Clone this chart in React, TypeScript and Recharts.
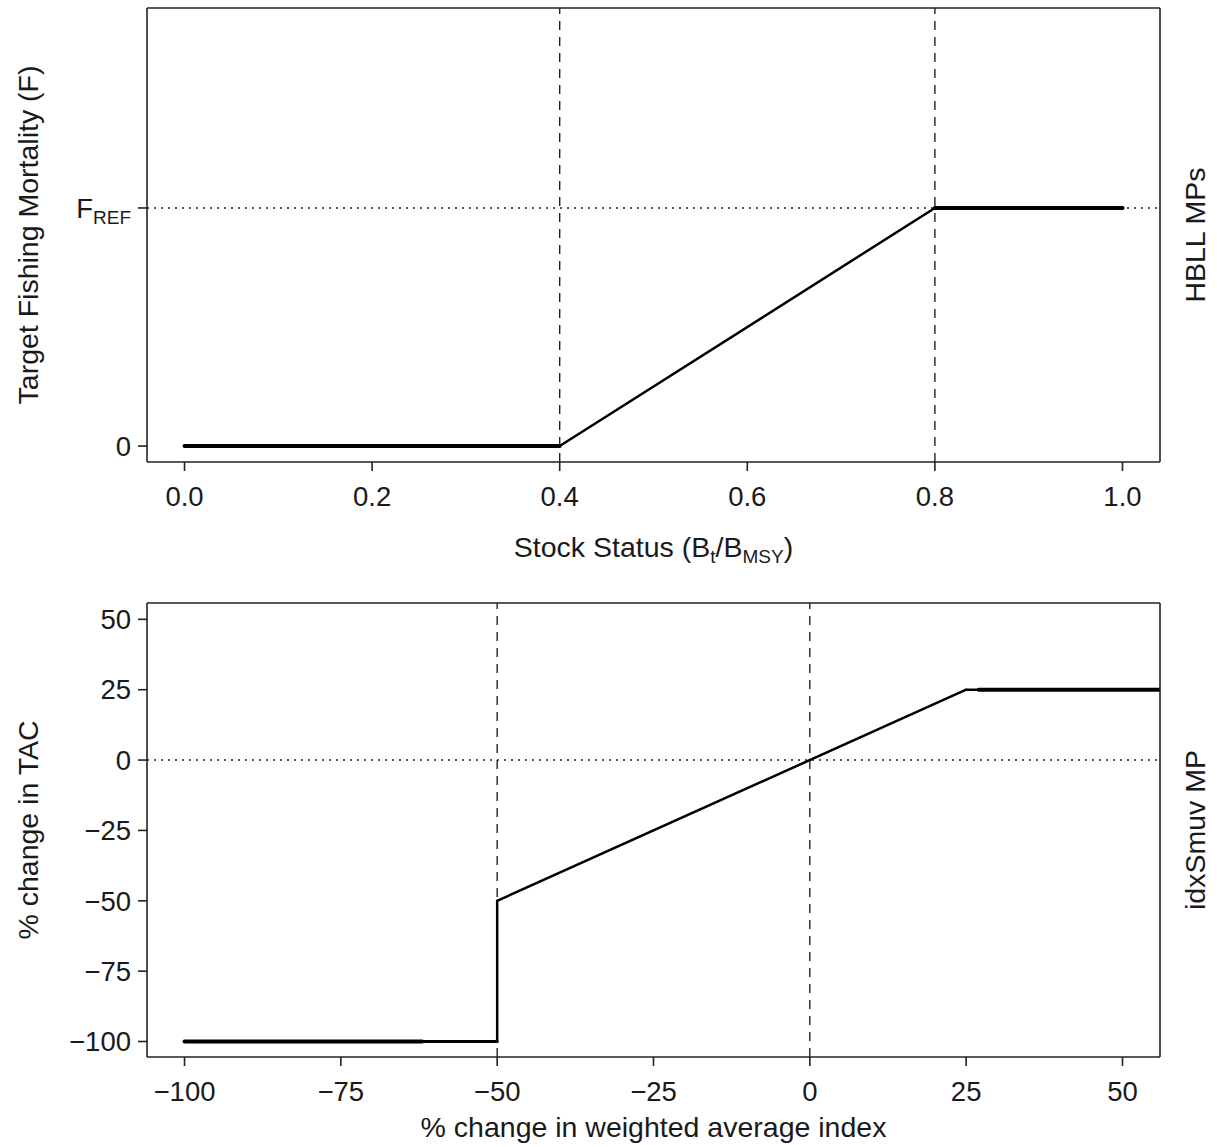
import React from "react";
import {
  LineChart,
  Line,
  XAxis,
  YAxis,
  ReferenceLine,
  Label,
} from "recharts";

const FONT = '"Liberation Sans", Arial, Helvetica, sans-serif';
const INK = "#1a1a1a";

// top panel: HBLL harvest control rule (F as fraction of F_REF)
const stockStatus = [0, 0.4, 0.8, 1.0];
const targetF = [0, 0, 1, 1];
const stockTicks = [0, 0.2, 0.4, 0.6, 0.8, 1.0];
const fTicks = [0, 1];
const stockRefX = [0.4, 0.8];
const fRefY = 1;
const stockDomain = [-0.04, 1.04];
const fDomain = [-0.067, 1.84];

// bottom panel: idxSmuv rule
const indexChange = [-100, -62, -50, -50, 25, 27, 56];
const tacChange = [-100, -100, -100, -50, 25, 25, 25];
const indexTicks = [-100, -75, -50, -25, 0, 25, 50];
const tacTicks = [50, 25, 0, -25, -50, -75, -100];
const indexRefX = [-50, 0];
const tacRefY = 0;
const indexDomain = [-106, 56];
const tacDomain = [-105.5, 55.8];

// line weight for each segment (overplotted parts look heavier)
const topWidths = [4, 2.5, 4];
const bottomWidths = [4, 3, 2.5, 2.5, 2.5, 4];

const toSegments = (xs: number[], ys: number[]) =>
  xs.slice(0, -1).map((x, i) => [
    { x, y: ys[i] },
    { x: xs[i + 1], y: ys[i + 1] },
  ]);

const topSegments = toSegments(stockStatus, targetF);
const bottomSegments = toSegments(indexChange, tacChange);

const minus = (v: number) => String(v).replace("-", "\u2212");

const TICK_SIZE = 27.5;

const XTick = ({ x, y, payload, fmt }: any) => (
  <text
    x={x}
    y={y}
    dy="0.71em"
    textAnchor="middle"
    fontSize={TICK_SIZE}
    fontFamily={FONT}
    fill={INK}
  >
    {fmt(payload.value)}
  </text>
);

const YTick = ({ x, y, payload }: any) => (
  <text
    x={x}
    y={y}
    dy="0.355em"
    textAnchor="end"
    fontSize={TICK_SIZE}
    fontFamily={FONT}
    fill={INK}
  >
    {minus(payload.value)}
  </text>
);

const FTick = ({ x, y, payload }: any) => (
  <text
    x={x}
    y={y}
    dy="0.355em"
    textAnchor="end"
    fontSize={TICK_SIZE}
    fontFamily={FONT}
    fill={INK}
  >
    {payload.value === 1 ? (
      <>
        F
        <tspan fontSize={19} dy={6}>
          REF
        </tspan>
      </>
    ) : (
      "0"
    )}
  </text>
);

const vTitle = (text: React.ReactNode, dx: number) => (props: any) => {
  const vb = props.viewBox;
  const cx = vb.x + dx;
  const cy = vb.y + vb.height / 2;
  return (
    <text
      x={cx}
      y={cy}
      dy="0.35em"
      textAnchor="middle"
      transform={`rotate(-90, ${cx}, ${cy})`}
      fontSize={28.5}
      fontFamily={FONT}
      fill={INK}
    >
      {text}
    </text>
  );
};

const hTitle = (text: React.ReactNode, dy: number) => (props: any) => {
  const vb = props.viewBox;
  return (
    <text
      x={vb.x + vb.width / 2}
      y={vb.y + dy}
      dy="0.35em"
      textAnchor="middle"
      fontSize={28.5}
      fontFamily={FONT}
      fill={INK}
    >
      {text}
    </text>
  );
};

const axisStroke = { stroke: "#222", strokeWidth: 1.6 };

export default function App() {
  return (
    <div
      style={{
        position: "absolute",
        left: 0,
        top: 0,
        width: 1217,
        height: 1147,
        background: "#fff",
      }}
    >
      <LineChart width={1217} height={575} margin={{ top: 8, right: 0, bottom: 0, left: 0 }}>
        <XAxis
          type="number"
          dataKey="x"
          domain={stockDomain}
          ticks={stockTicks}
          allowDataOverflow
          height={113}
          tickSize={9}
          tickMargin={15}
          axisLine={axisStroke}
          tickLine={axisStroke}
          tick={<XTick fmt={(v: number) => v.toFixed(1)} />}
        >
          <Label
            content={hTitle(
              <>
                Stock Status (B
                <tspan fontSize={19} dy={6}>t</tspan>
                <tspan dy={-6}>/B</tspan>
                <tspan fontSize={19} dy={6}>MSY</tspan>
                <tspan dy={-6}>)</tspan>
              </>,
              85
            )}
          />
        </XAxis>
        <YAxis
          type="number"
          domain={fDomain}
          ticks={fTicks}
          allowDataOverflow
          width={147}
          tickSize={9}
          tickMargin={7}
          axisLine={axisStroke}
          tickLine={axisStroke}
          tick={<FTick />}
        >
          <Label content={vTitle("Target Fishing Mortality (F)", 28)} />
        </YAxis>
        <YAxis
          yAxisId="right"
          orientation="right"
          type="number"
          domain={[0, 1]}
          width={57}
          tick={false}
          tickLine={false}
          axisLine={axisStroke}
        >
          <Label content={vTitle("HBLL MPs", 35)} />
        </YAxis>
        {/* top edge of the box */}
        <ReferenceLine y={fDomain[1]} stroke="#222" strokeWidth={1.6} />
        <ReferenceLine y={fRefY} stroke="#222" strokeWidth={1.4} strokeDasharray="2 5" />
        {stockRefX.map((v) => (
          <ReferenceLine key={v} x={v} stroke="#222" strokeWidth={1.4} strokeDasharray="9 7" />
        ))}
        {topSegments.map((seg, i) => (
          <Line
            key={i}
            data={seg}
            dataKey="y"
            stroke="#000"
            strokeWidth={topWidths[i]}
            strokeLinecap="round"
            dot={false}
            activeDot={false}
            isAnimationActive={false}
          />
        ))}
      </LineChart>
      <LineChart width={1217} height={572} margin={{ top: 28, right: 0, bottom: 0, left: 0 }}>
        <XAxis
          type="number"
          dataKey="x"
          domain={indexDomain}
          ticks={indexTicks}
          allowDataOverflow
          height={90}
          tickSize={9}
          tickMargin={15}
          axisLine={axisStroke}
          tickLine={axisStroke}
          tick={<XTick fmt={minus} />}
        >
          <Label content={hTitle("% change in weighted average index", 70)} />
        </XAxis>
        <YAxis
          type="number"
          domain={tacDomain}
          ticks={tacTicks}
          allowDataOverflow
          width={147}
          tickSize={9}
          tickMargin={7}
          axisLine={axisStroke}
          tickLine={axisStroke}
          tick={<YTick />}
        >
          <Label content={vTitle("% change in TAC", 28)} />
        </YAxis>
        <YAxis
          yAxisId="right"
          orientation="right"
          type="number"
          domain={[0, 1]}
          width={57}
          tick={false}
          tickLine={false}
          axisLine={axisStroke}
        >
          <Label content={vTitle("idxSmuv MP", 35)} />
        </YAxis>
        {/* top edge of the box */}
        <ReferenceLine y={tacDomain[1]} stroke="#222" strokeWidth={1.6} />
        <ReferenceLine y={tacRefY} stroke="#222" strokeWidth={1.4} strokeDasharray="2 5" />
        {indexRefX.map((v) => (
          <ReferenceLine key={v} x={v} stroke="#222" strokeWidth={1.4} strokeDasharray="9 7" />
        ))}
        {bottomSegments.map((seg, i) => (
          <Line
            key={i}
            data={seg}
            dataKey="y"
            stroke="#000"
            strokeWidth={bottomWidths[i]}
            strokeLinecap="round"
            dot={false}
            activeDot={false}
            isAnimationActive={false}
          />
        ))}
      </LineChart>
    </div>
  );
}
